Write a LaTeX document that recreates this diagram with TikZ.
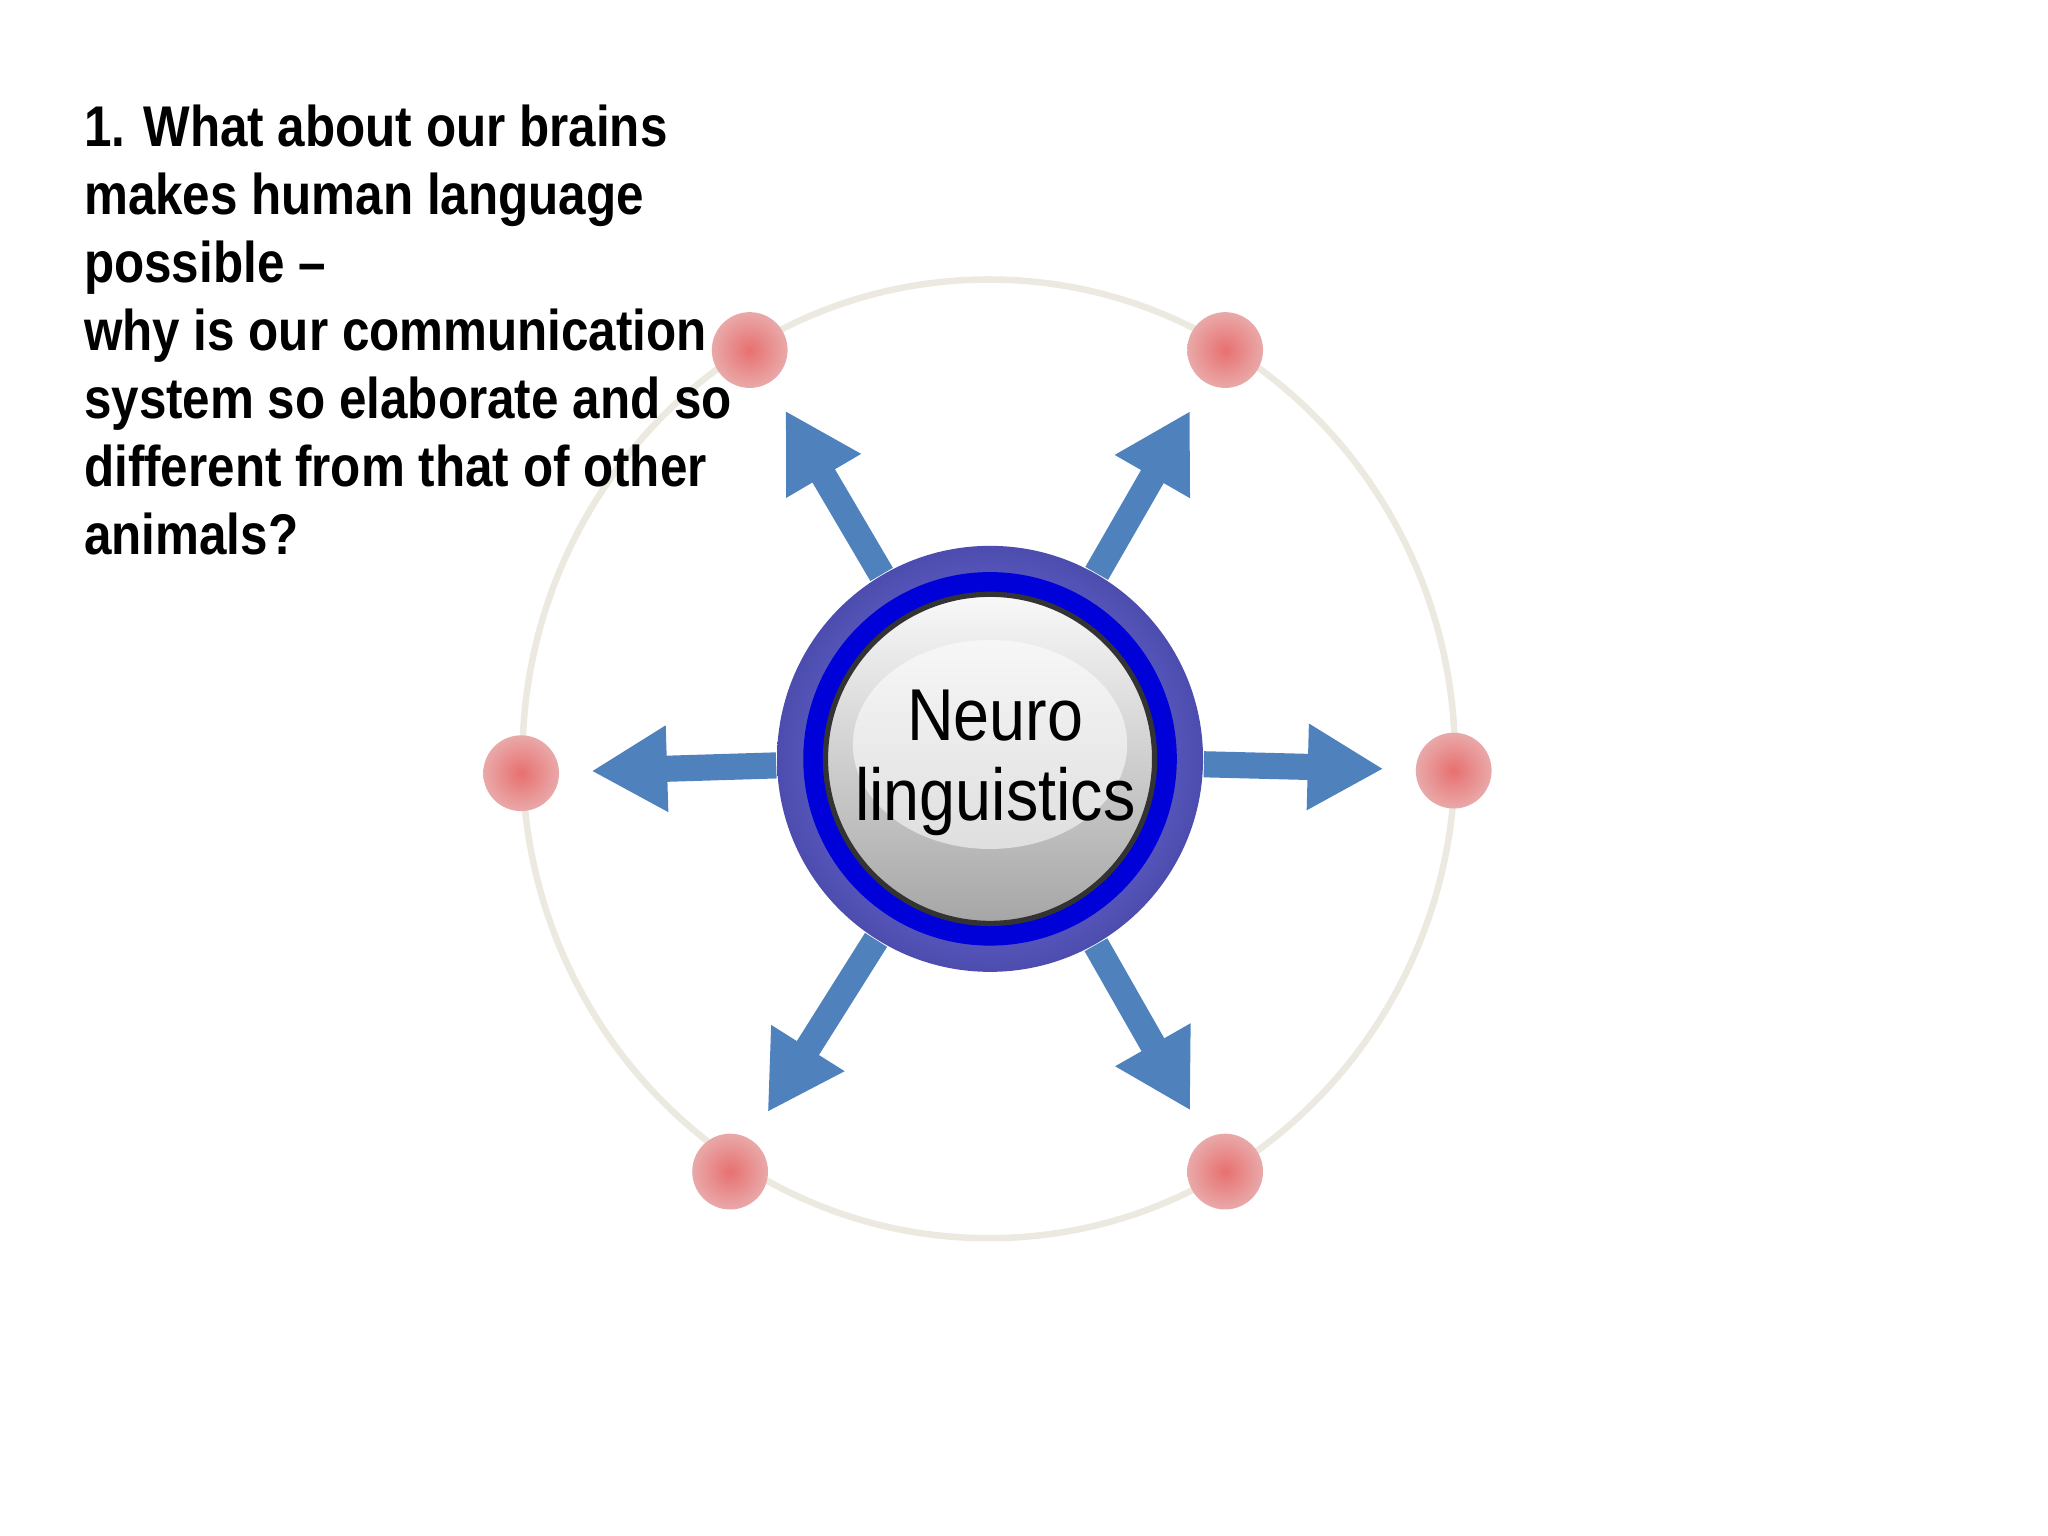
\documentclass[tikz,border=0pt]{standalone}
\usepackage{fontspec}
\setmainfont{Liberation Sans}
\usetikzlibrary{arrows.meta}
\definecolor{arrowblue}{RGB}{79,129,189}
\definecolor{orbit}{RGB}{236,234,224}
\definecolor{dotpink}{RGB}{226,140,140}
\tikzset{
  dot/.style={circle, inner sep=0pt, minimum size=0.58cm, draw=none, inner color=dotpink!80!red, outer color=dotpink!75!white},
  spoke/.style={arrowblue, line width=0.2cm, -{Triangle[width=0.62cm,length=0.58cm]}, shorten >=0.24cm},
}
\begin{document}
\begin{tikzpicture}[x=0.01cm, y=-0.01cm]
\useasboundingbox (0,0) rectangle (1568,1176);
% orbit
\draw[orbit, line width=0.05cm] (757,581) ellipse (357 and 367);
% centre button
\node (hub) [circle, minimum size=3.26cm, inner sep=0pt, inner color=blue!45!white, outer color=blue!55!black!70!white] at (758,581) {};
\fill[blue!85!black] (758,581) circle (143);
\shade[top color=gray!5, bottom color=gray!70, draw=black!80, line width=0.04cm] (758,581) circle (126);
\fill[white, opacity=0.55] (758,570) ellipse (105 and 80);
\node[align=center, font=\fontsize{16}{17.6}\selectfont] at (762,584) {\scalebox{0.88}[1]{Neuro}\\\scalebox{0.88}[1]{linguistics}};
% outer dots
\node (ul) [dot] at (574,268) {};
\node (ur) [dot] at (938,268) {};
\node (l)  [dot] at (399,592) {};
\node (r)  [dot] at (1113,590) {};
\node (dl) [dot] at (559,897) {};
\node (dr) [dot] at (938,897) {};
% arrows
\foreach \t in {ul,ur,l,r,dl,dr}
  \draw[spoke] (hub) -- (\t);
% question
\node[anchor=north west, align=left, font=\bfseries\fontsize{12.5}{14.8}\selectfont] (question) at (52,68)
  {\scalebox{0.86}[1]{1. What about our brains}\\
   \scalebox{0.86}[1]{makes human language}\\
   \scalebox{0.86}[1]{possible –}\\
   \scalebox{0.86}[1]{why is our communication}\\
   \scalebox{0.86}[1]{system so elaborate and so}\\
   \scalebox{0.86}[1]{different from that of other}\\
   \scalebox{0.86}[1]{animals?}};
\end{tikzpicture}
\end{document}
